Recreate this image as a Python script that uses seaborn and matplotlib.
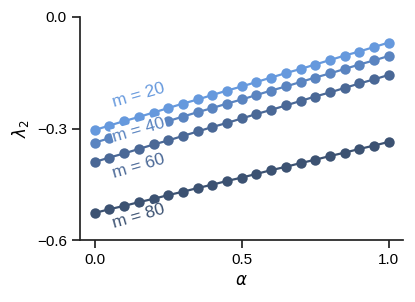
import matplotlib
matplotlib.use("Agg")
import matplotlib.pyplot as plt
import numpy as np
import pandas as pd
import seaborn as sns

alpha = [0.00, 0.05, 0.10, 0.15, 0.20, 0.25, 0.30, 0.35, 0.40, 0.45, 0.50,
         0.55, 0.60, 0.65, 0.70, 0.75, 0.80, 0.85, 0.90, 0.95, 1.00]

lam_m20 = [-0.304, -0.292, -0.280, -0.269, -0.257, -0.245, -0.233, -0.222, -0.210, -0.198, -0.187,
           -0.175, -0.163, -0.151, -0.140, -0.128, -0.116, -0.104, -0.093, -0.081, -0.069]
lam_m40 = [-0.338, -0.326, -0.315, -0.303, -0.291, -0.280, -0.268, -0.256, -0.245, -0.233, -0.222,
           -0.210, -0.198, -0.187, -0.175, -0.163, -0.152, -0.140, -0.128, -0.117, -0.105]
lam_m60 = [-0.390, -0.378, -0.367, -0.355, -0.343, -0.332, -0.320, -0.308, -0.296, -0.285, -0.273,
           -0.261, -0.250, -0.238, -0.226, -0.214, -0.203, -0.191, -0.179, -0.168, -0.156]
lam_m80 = [-0.527, -0.517, -0.508, -0.498, -0.489, -0.479, -0.470, -0.460, -0.451, -0.441, -0.432,
           -0.422, -0.412, -0.403, -0.393, -0.384, -0.374, -0.365, -0.355, -0.346, -0.336]

m_values = [20, 40, 60, 80]
colors = ["#6699dd", "#5a84c0", "#4a6896", "#3c5272"]

# label anchor points (x, y) for the inline curve labels
label_x = [0.15, 0.15, 0.15, 0.15]
label_y = [-0.210, -0.304, -0.402, -0.537]

sns.set_theme(style="ticks")
plt.rcParams["font.family"] = ["Liberation Sans", "DejaVu Sans"]
plt.rcParams["mathtext.fontset"] = "dejavusans"
plt.rcParams["text.color"] = "black"
plt.rcParams["axes.labelcolor"] = "black"
plt.rcParams["xtick.color"] = "black"
plt.rcParams["ytick.color"] = "black"

df = pd.DataFrame({
    "alpha": alpha * 4,
    "lam": lam_m20 + lam_m40 + lam_m60 + lam_m80,
    "m": [m for m in m_values for _ in alpha],
})

fig, ax = plt.subplots(figsize=(4.15, 3.02), dpi=100)
sns.lineplot(
    data=df, x="alpha", y="lam", hue="m", palette=colors,
    marker="o", markersize=7.5, markeredgewidth=0, linewidth=1.6,
    legend=False, ax=ax,
)

for m, c, lx, ly in zip(m_values, colors, label_x, label_y):
    ax.text(lx, ly, f"m = {m}", color=c, fontsize=12.5, rotation=16,
            ha="center", va="center", zorder=5,
            bbox=dict(facecolor="white", edgecolor="none", pad=0.5))

ax.set_xlim(-0.05, 1.05)
ax.set_ylim(-0.6, 0.0)
ax.set_xticks([0.0, 0.5, 1.0])
ax.set_yticks([-0.6, -0.3, 0.0])
ax.set_xticklabels(["0.0", "0.5", "1.0"])
ax.set_yticklabels(["\u22120.6", "\u22120.3", "0.0"])
ax.set_xlabel(r"$\alpha$", fontsize=12)
ax.set_ylabel(r"$\lambda_2$", fontsize=12)
ax.tick_params(labelsize=11, color="#222222")
for s in ax.spines.values():
    s.set_color("#222222")
sns.despine(ax=ax)

fig.subplots_adjust(left=0.193, right=0.972, bottom=0.205, top=0.944)
fig.savefig("out.png", dpi=100)
